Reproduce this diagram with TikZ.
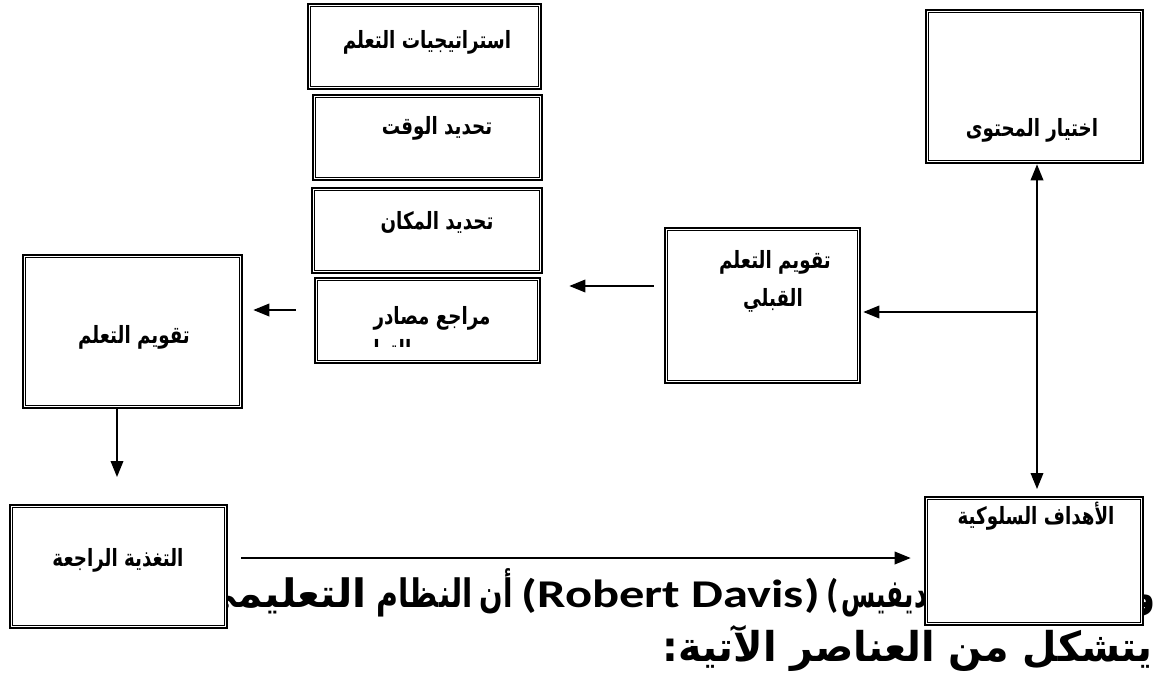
\documentclass[tikz,border=0pt]{standalone}
\usepackage{fontspec}
\usepackage{graphicx}
\usetikzlibrary{arrows.meta,fit}
\TeXXeTstate=1
\newfontfamily\arfont[Script=Arabic]{DejaVu Sans}
\newfontfamily\latfont{Carlito}

% Arabic label set a little taller than the font's own proportions
\newcommand\lab[1]{\scalebox{1}[1.3]{\beginR #1\endR}}
% Arabic word of the paragraph, fitted to a given width
\newcommand\pword[2]{\resizebox{#1}{1.05\height}{\beginR #2\endR}}

\tikzset{
  dblbox/.style={draw, line width=2pt, fill=white, inner sep=0pt},
  innerline/.style={line width=1.1pt},
  lbl/.style={font=\arfont\bfseries\fontsize{13.7}{16}\selectfont, inner sep=0pt, align=center},
  arbig/.style={font=\arfont\bfseries\fontsize{28}{30}\selectfont, inner sep=0pt, anchor=base east},
  latbig/.style={font=\latfont\bfseries\fontsize{29.5}{32}\selectfont, inner sep=0pt, anchor=base east},
  arr/.style={line width=1.1pt, -{Triangle[length=12pt,width=9.5pt]}},
  dblarr/.style={line width=1.1pt, {Triangle[length=12pt,width=9.5pt]}-{Triangle[length=12pt,width=9.5pt]}}
}
\newcommand\innerframe[1]{\draw[innerline] ([shift={(4,4)}]#1.north west) rectangle ([shift={(-4,-4)}]#1.south east);}

\begin{document}
\begin{tikzpicture}[x=0.75pt,y=-0.75pt]
\useasboundingbox[fill=white] (0,0) rectangle (1159,688);

% running paragraph beneath the diagram, first line
\node[arbig] (w0) at (1156,607) {\scalebox{1}[1.05]{\beginR و\endR}};
\node[arbig] (w1) at (927,607) {\pword{63.75pt}{ديفيس}};
\node[latbig] (w2) at ([xshift=-1.5pt]w1.base west) {(};
\node[latbig] (w3) at (820,607) {\resizebox{223.5pt}{\height}{(Robert Davis)}};
\node[arbig] (w4) at (513,607) {\pword{24.75pt}{أن}};
\node[arbig] (w5) at (473,607) {\pword{72pt}{النظام}};
\node[arbig] (w6) at (367,607) {\pword{128pt}{التعليمي}};
% second line
\node[arbig] (line2) at (1153,661)
  {\resizebox{367.5pt}{1.1\height}{\beginR يتشكل من العناصر الآتية\beginL:\endL\endR}};

% boxes
\node[dblbox, fit={(308,4) (541,89)}] (strat) {};
\node[dblbox, fit={(313,95) (542,180)}] (time) {};
\node[dblbox, fit={(312,188) (542,273)}] (place) {};
\node[dblbox, fit={(315,278) (540,363)}] (refs) {};
\node[dblbox, fit={(23,255) (242,408)}] (taqwim) {};
\node[dblbox, fit={(10,505) (227,628)}] (feedback) {};
\node[dblbox, fit={(665,228) (860,383)}] (qabli) {};
\node[dblbox, fit={(926,10) (1143,163)}] (content) {};
\node[dblbox, fit={(925,497) (1143,625)}] (goals) {};
\foreach \b in {strat,time,place,refs,taqwim,feedback,qabli,content,goals}{\innerframe{\b}}

% labels
\node[lbl] (stratT) at (427,42) {\lab{استراتيجيات التعلم}};
\node[lbl] (timeT) at (437,128) {\lab{تحديد الوقت}};
\node[lbl] (placeT) at (437,222) {\lab{تحديد المكان}};
\node[lbl] (refsT) at (432,318) {\lab{مراجع مصادر}};
\begin{scope}
  \clip (320,283) rectangle (535,346);
  \node[lbl, anchor=base] (refsT2) at (385,357) {\lab{التعلم}};
\end{scope}
\node[lbl] (taqwimT) at (134,337) {\lab{تقويم التعلم}};
\node[lbl] (feedbackT) at (118,560) {\lab{التغذية الراجعة}};
\node[lbl, anchor=base] (qabliT1) at (775,268) {\lab{تقويم التعلم}};
\node[lbl, anchor=base] (qabliT2) at (773,306) {\lab{القبلي}};
\node[lbl] (contentT) at (1032,130) {\lab{اختيار المحتوى}};
\node[lbl] (goalsT) at (1036,516) {\lab{الأهداف السلوكية}};

% connectors
\coordinate (xv) at (1037,0);
\coordinate (jn) at (1037,312);
\coordinate (ya) at (0,310);
\coordinate (yb) at (0,286);
\coordinate (xd) at (117,0);
\coordinate (yc) at (0,558);
\draw[dblarr, shorten >=5pt] (content.south -| xv) -- (goals.north -| xv);
\draw[arr, shorten >=1.5pt] (jn) -- (qabli.east |- jn);
\draw[arr, shorten <=7.5pt, shorten >=21pt] (qabli.west |- yb) -- (refs.east |- yb);
\draw[arr, shorten <=13.5pt, shorten >=7.5pt] (refs.west |- ya) -- (taqwim.east |- ya);
\draw[arr, shorten >=20pt] (taqwim.south -| xd) -- (feedback.north -| xd);
\draw[arr, shorten <=9.75pt, shorten >=9.75pt] (feedback.east |- yc) -- (goals.west |- yc);
\end{tikzpicture}
\end{document}
